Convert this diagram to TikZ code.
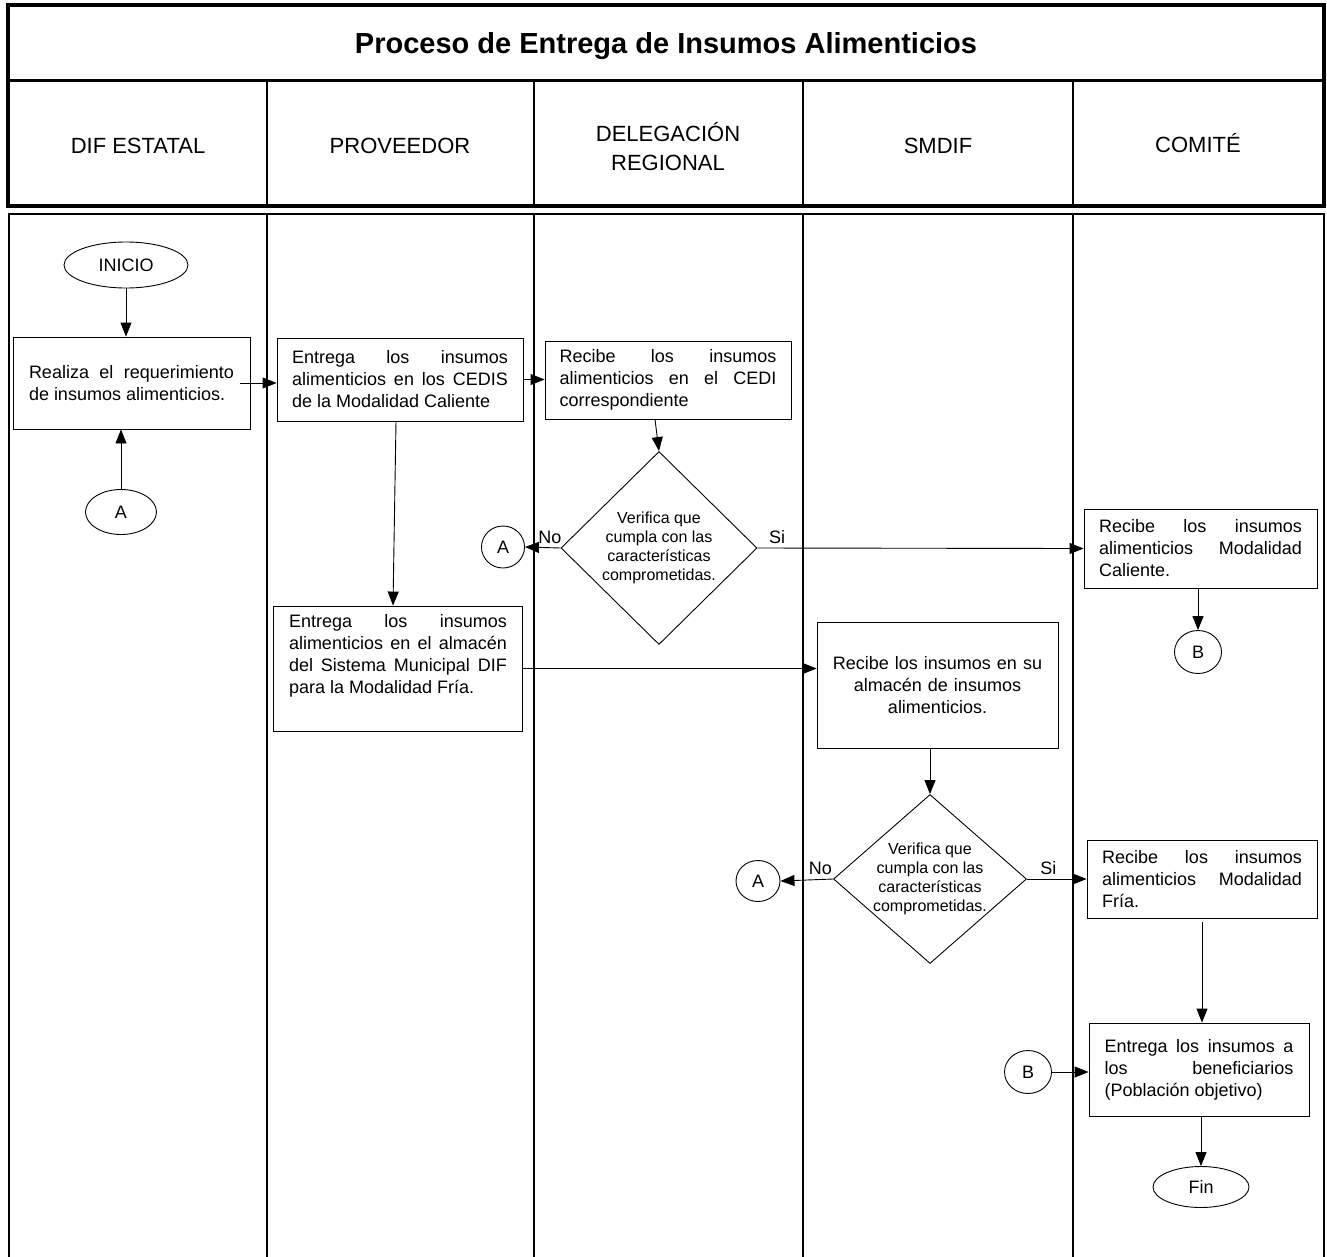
\documentclass[tikz,border=0pt]{standalone}
\usepackage{fontspec}
\setmainfont{Liberation Sans}
\usetikzlibrary{arrows.meta}
\usetikzlibrary{shapes.geometric}
\tolerance=10000
\hbadness=10000
\hyphenpenalty=10000
\tikzset{
	procstyle/.style={rectangle,draw=black,line width=0.9pt,align=justify,font=\fontsize{18}{22}\selectfont},
	termstyle/.style={ellipse,draw=black,line width=0.9pt,inner sep=0pt,font=\fontsize{18}{22}\selectfont},
	decstyle/.style={diamond,draw=black,line width=0.9pt,inner sep=-1pt,align=center,font=\fontsize{16}{19}\selectfont},
	lanestyle/.style={align=center,font=\fontsize{22}{29}\selectfont},
	labelstyle/.style={inner sep=4pt,font=\fontsize{18}{22}\selectfont}
}
\begin{document}
\begin{tikzpicture}[x=1pt,y=-1pt,>={Triangle[length=14pt,width=11pt]},line width=0.9pt]
	\useasboundingbox (0,0) rectangle (1327,1256);
	% encabezado
	\draw[line width=3.5pt] (8,5) rectangle (1324,206);
	\draw[line width=3pt] (8,80) -- (1324,80);
	\draw[line width=2.5pt] (267,80) -- (267,206);
	\draw[line width=2.5pt] (534,80) -- (534,206);
	\draw[line width=2.5pt] (803,80) -- (803,206);
	\draw[line width=2.5pt] (1073,80) -- (1073,206);
	\node[font=\fontsize{29}{34}\selectfont\bfseries] (titulo) at (666,46) {Proceso de Entrega de Insumos Alimenticios};
	\node[lanestyle] (dif) at (138,146) {DIF ESTATAL};
	\node[lanestyle] (prov) at (400,146) {PROVEEDOR};
	\node[lanestyle] (deleg) at (668,147) {DELEGACIÓN\\REGIONAL};
	\node[lanestyle] (smdif) at (938,146) {SMDIF};
	\node[lanestyle] (comite) at (1198,143) {COMITÉ};
	% carriles
	\draw[line width=2pt] (9,1260) -- (9,214) -- (1324,214) -- (1324,1260);
	\draw[line width=2pt] (267,214) -- (267,1260);
	\draw[line width=2pt] (534,214) -- (534,1260);
	\draw[line width=2pt] (803,214) -- (803,1260);
	\draw[line width=2pt] (1073,214) -- (1073,1260);
	% flujo
	\node[termstyle,minimum width=124pt,minimum height=46pt] (inicio) at (126,265) {INICIO};
	\node[procstyle,text width=205pt,minimum width=237pt,minimum height=92pt] (req) at (131.5,383) {Realiza el requerimiento\linebreak de insumos alimenticios.};
	\node[termstyle,minimum width=71pt,minimum height=45pt] (a1) at (121,512) {A};
	\node[procstyle,text width=216pt,minimum width=246pt,minimum height=83pt] (ent1) at (400,379.5) {Entrega los insumos\linebreak alimenticios en los CEDIS\linebreak de la Modalidad Caliente};
	\node[procstyle,text width=217pt,minimum width=246pt,minimum height=78pt] (rec1) at (668,380) {Recibe los insumos\linebreak alimenticios en el CEDI\linebreak correspondiente};
	\node[decstyle,minimum width=196pt,minimum height=193pt] (dec1) at (659,548) {Verifica que\\cumpla con las\\características\\comprometidas.};
	\node[termstyle,minimum width=43pt,minimum height=42pt] (a2) at (503,547) {A};
	\node[procstyle,text width=203pt,minimum width=233pt,minimum height=79pt] (recC) at (1200.5,548.5) {Recibe los insumos\linebreak alimenticios Modalidad\linebreak Caliente.};
	\node[termstyle,minimum width=47pt,minimum height=43pt] (b1) at (1198,652) {B};
	\node[procstyle,text width=218pt,minimum width=249pt,minimum height=125pt] (ent2) at (398,668.5) {Entrega los insumos\linebreak alimenticios en el almacén\linebreak del Sistema Municipal DIF\linebreak para la Modalidad Fría.\par\strut};
	\node[procstyle,align=center,text width=220pt,minimum width=241pt,minimum height=126pt] (rec2) at (937.5,685) {Recibe los insumos en su\\almacén de insumos\\alimenticios.};
	\node[decstyle,shape aspect=1.14,minimum width=193pt,minimum height=169pt] (dec2) at (930,879) {Verifica que\\cumpla con las\\características\\comprometidas.};
	\node[termstyle,minimum width=44pt,minimum height=41pt] (a3) at (758,881) {A};
	\node[procstyle,text width=200pt,minimum width=230pt,minimum height=78pt] (recF) at (1202,879) {Recibe los insumos\linebreak alimenticios Modalidad\linebreak Fría.};
	\node[procstyle,text width=189pt,minimum width=220pt,minimum height=93pt] (entB) at (1199,1069.5) {Entrega los insumos a\linebreak los beneficiarios\linebreak (Población objetivo)};
	\node[termstyle,minimum width=47pt,minimum height=43pt] (b2) at (1028,1072) {B};
	\node[termstyle,minimum width=96pt,minimum height=41pt] (fin) at (1201,1187) {Fin};
	\draw[->] (inicio.south) -- (inicio.south |- req.north);
	\draw[->] (a1.north) -- (a1.north |- req.south);
	\draw[->] ([xshift=-10pt]req.east) -- (req.east -| ent1.west);
	\draw[->] (ent1.east) -- (ent1.east -| rec1.west);
	\draw[->] ([xshift=-13pt]rec1.south) -- (dec1.north);
	\draw[->] (dec1.west) -- node[labelstyle,above,pos=0.3] (no1) {No} (a2.east);
	\draw[->] (dec1.east) -- node[labelstyle,above,pos=0.06] (si1) {Si} (recC.west);
	\draw[->] (recC.south -| b1.north) -- (b1.north);
	\draw[->] ([xshift=-4pt]ent1.south) -- ([xshift=-5pt]ent2.north);
	\draw[->] (ent2.east) -- (ent2.east -| rec2.west);
	\draw[->] (rec2.south -| dec2.north) -- (dec2.north);
	\draw[->] (dec2.west) -- node[labelstyle,above,pos=0.24] (no2) {No} (a3.east);
	\draw[->] (dec2.east) -- node[labelstyle,above,pos=0.36] (si2) {Si} (recF.west);
	\draw[->] ([yshift=-4pt]recF.south) -- (recF.south |- entB.north);
	\draw[->] (b2.east) -- (b2.east -| entB.west);
	\draw[->] (entB.south -| fin.north) -- (fin.north);
\end{tikzpicture}
\end{document}
